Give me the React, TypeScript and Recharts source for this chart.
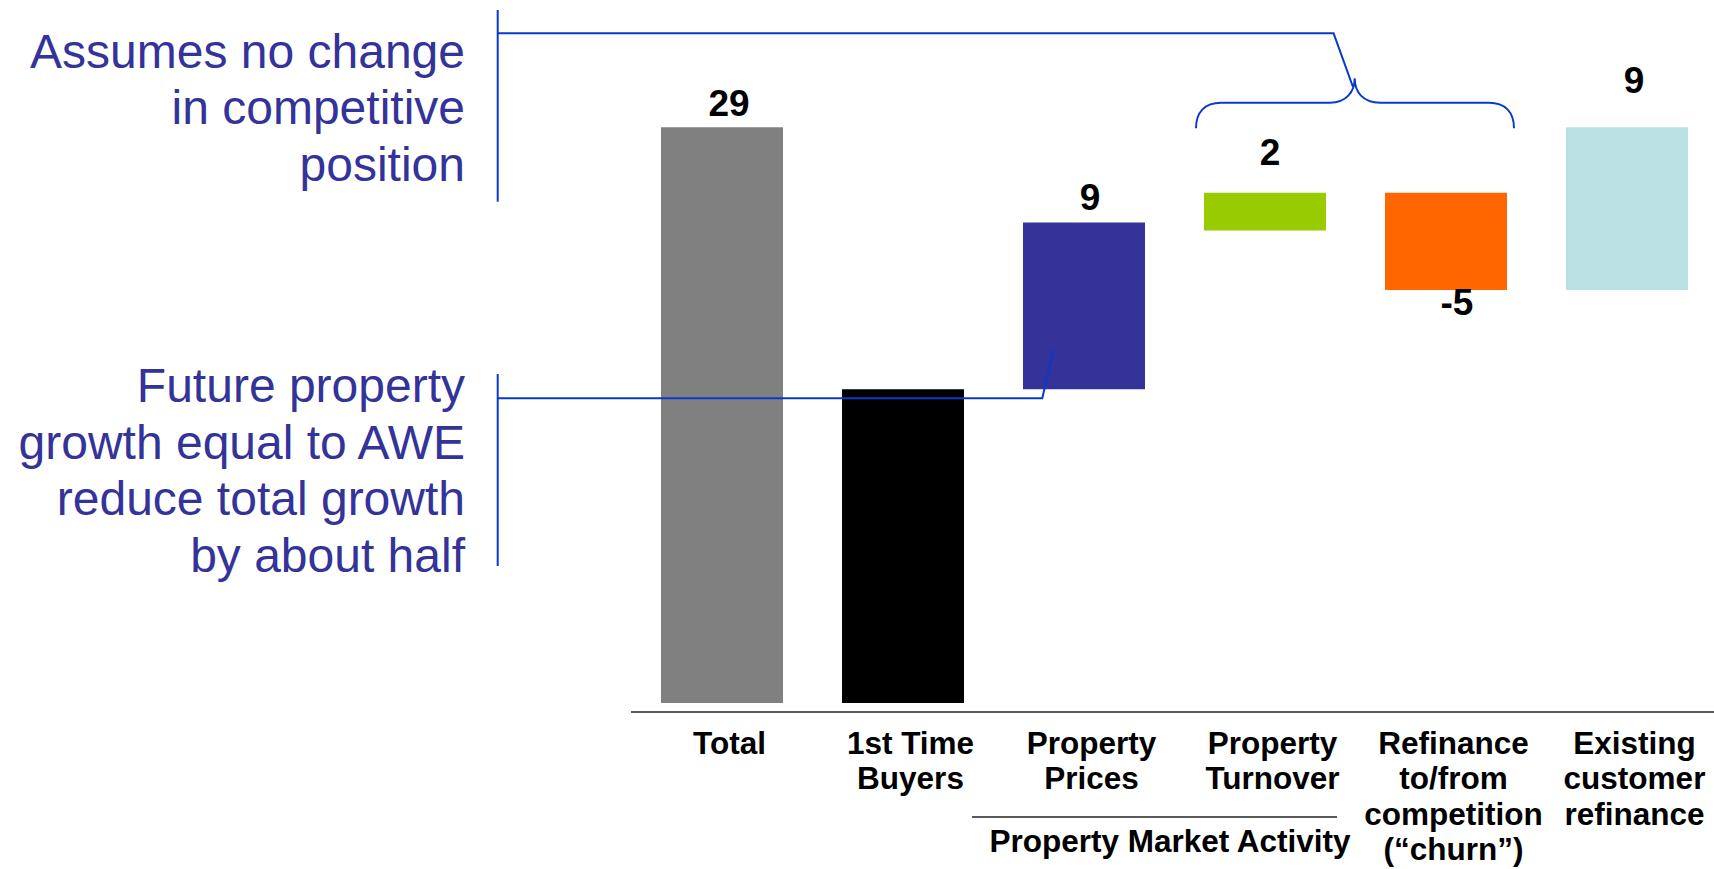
import { Bar, BarChart, Cell, LabelList, XAxis, YAxis } from "recharts";

// Categories (line breaks mark the wrapped axis labels)
const categories = [
  "Total",
  "1st Time\nBuyers",
  "Property\nPrices",
  "Property\nTurnover",
  "Refinance\nto/from\ncompetition\n(\u201Cchurn\u201D)",
  "Existing\ncustomer\nrefinance",
];
// Floating waterfall segments
const barStart = [0, 0, 15.8, 23.8, 20.8, 20.8];
const barEnd = [29, 15.8, 24.2, 25.7, 25.7, 29];
const valueLabels = ["29", "", "9", "2", "-5", "9"];

const topNote = ["Assumes no change", "in competitive", "position"];
const bottomNote = [
  "Future property",
  "growth equal to AWE",
  "reduce total growth",
  "by about half",
];
const groupLabel = "Property Market Activity";

const barColors = ["#808080", "#000000", "#333399", "#99CC00", "#FF6600", "#BBE0E3"];
// label nudges: horizontal shift from bar centre, gap to the bar edge
const labelNudge = [
  { dx: 7, gap: 11, below: false },
  { dx: 0, gap: 0, below: false },
  { dx: 6, gap: 12, below: false },
  { dx: 5, gap: 28, below: false },
  { dx: 11, gap: 25, below: true },
  { dx: 7, gap: 34, below: false },
];

const FONT = "'Liberation Sans', Arial, Helvetica, sans-serif";
const NOTE_COLOR = "#333399";
const LEADER_COLOR = "#0a3acc";

const chartData = categories.map((name, i) => ({
  name,
  range: [barStart[i], barEnd[i]],
}));

const CategoryTick = (props: any) => {
  const { x, y, payload } = props;
  const lines = String(payload.value).split("\n");
  return (
    <text
      x={x + 8}
      y={y}
      textAnchor="middle"
      fontFamily={FONT}
      fontWeight="bold"
      fontSize={31.5}
      fill="#000"
    >
      {lines.map((line, i) => (
        <tspan key={i} x={x + 8} dy={i === 0 ? 34 : 35.3}>
          {line}
        </tspan>
      ))}
    </text>
  );
};

const ValueLabel = (props: any) => {
  const { x, y, width, height, index } = props;
  const text = valueLabels[index];
  if (!text) return null;
  const nudge = labelNudge[index];
  const top = Math.min(y, y + height);
  const bottom = Math.max(y, y + height);
  const ty = nudge.below ? bottom + nudge.gap : top - nudge.gap;
  return (
    <text
      x={x + width / 2 + nudge.dx}
      y={ty}
      textAnchor="middle"
      fontFamily={FONT}
      fontWeight="bold"
      fontSize={37}
      fill="#000"
    >
      {text}
    </text>
  );
};

const Annotations = () => (
  <svg
    width={1714}
    height={869}
    style={{ position: "absolute", left: 0, top: 0, pointerEvents: "none" }}
  >
    <g fontFamily={FONT} fontSize={48} fill={NOTE_COLOR} textAnchor="end">
      {topNote.map((line, i) => (
        <text key={line} x={465} y={67.7 + i * 56.4}>
          {line}
        </text>
      ))}
      {bottomNote.map((line, i) => (
        <text key={line} x={465} y={402.3 + i * 56.5}>
          {line}
        </text>
      ))}
    </g>

    <g stroke={LEADER_COLOR} strokeWidth={2} fill="none">
      {/* upper bracket and leader to the brace */}
      <line x1={497.7} y1={10} x2={497.7} y2={201.7} />
      <polyline points="497.7,33.3 1333.6,33.3 1353,87" />
      <path d="M1196 128.3 C1196 112 1205 102.7 1221 102.7 L1330 102.7 C1346 102.7 1354.7 92 1354.7 78.3 C1354.7 92 1363 102.7 1380 102.7 L1489 102.7 C1505 102.7 1514 112 1514 128.3" />
      {/* lower bracket and leader to property prices */}
      <line x1={497.7} y1={374} x2={497.7} y2={566} />
      <polyline points="497.7,398.3 1042.3,398.3 1053.3,350" />
    </g>

    <line x1={972} y1={817} x2={1337} y2={817} stroke="#222" strokeWidth={1.5} />
    <text
      x={1170}
      y={852}
      textAnchor="middle"
      fontFamily={FONT}
      fontWeight="bold"
      fontSize={31.5}
      fill="#000"
    >
      {groupLabel}
    </text>
  </svg>
);

const App = () => {
  return (
    <div
      style={{
        position: "absolute",
        left: 0,
        top: 0,
        width: 1714,
        height: 869,
        overflow: "hidden",
        background: "#fff",
      }}
    >
      <BarChart
        width={1720}
        height={869}
        data={chartData}
        margin={{ top: 8, right: 3, left: 631, bottom: 0 }}
      >
        <XAxis
          dataKey="name"
          interval={0}
          height={157}
          tickLine={false}
          axisLine={{ stroke: "#222", strokeWidth: 1.5 }}
          tick={<CategoryTick />}
        />
        <YAxis hide width={0} type="number" domain={[-0.453, 35]} allowDataOverflow />
        <Bar dataKey="range" barSize={122} isAnimationActive={false}>
          {chartData.map((d, i) => (
            <Cell key={d.name} fill={barColors[i]} />
          ))}
          <LabelList dataKey="range" content={<ValueLabel />} />
        </Bar>
      </BarChart>
      <Annotations />
    </div>
  );
};

export default App;
